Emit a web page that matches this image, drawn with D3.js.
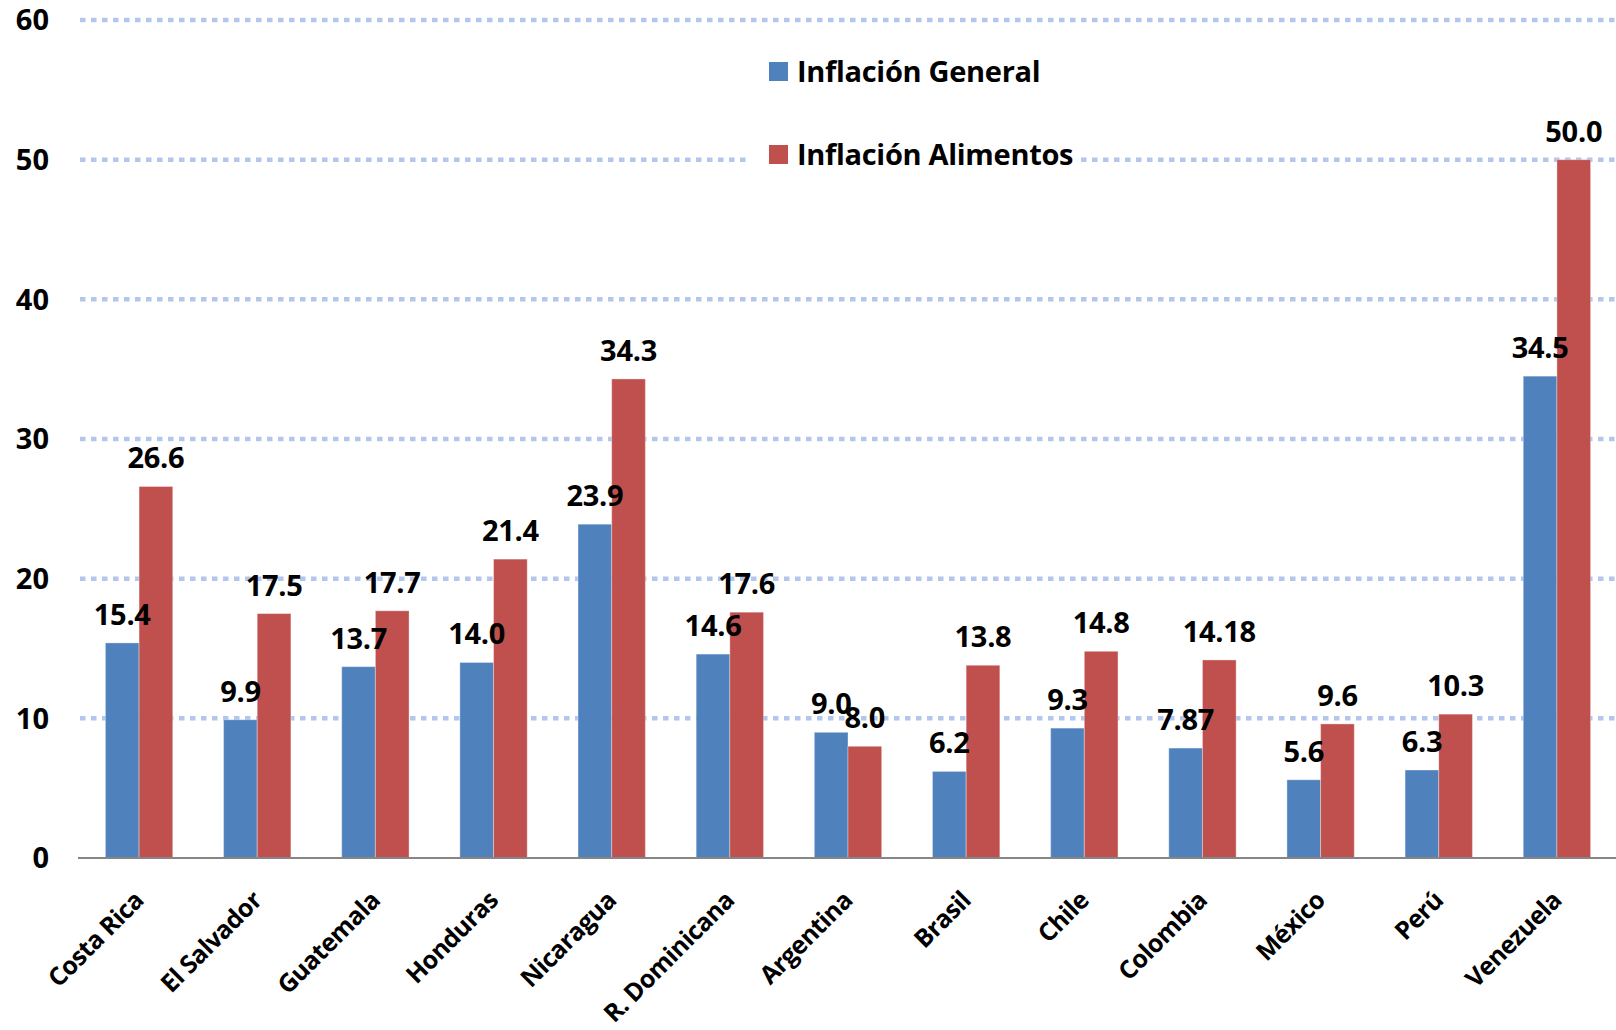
<!DOCTYPE html>
<html>
<head>
<meta charset="utf-8">
<script src="https://cdn.jsdelivr.net/npm/d3@7"></script>
<style>
  body { margin: 0; background: #fff; }
  text { font-family: "Open Sans", Lato, sans-serif; font-weight: bold; fill: #000; }
</style>
</head>
<body>
<div id="chart"></div>
<script>
// data
var paises = ["Costa Rica", "El Salvador", "Guatemala", "Honduras", "Nicaragua", "R. Dominicana",
  "Argentina", "Brasil", "Chile", "Colombia", "México", "Perú", "Venezuela"];
var inflGeneral = [15.4, 9.9, 13.7, 14.0, 23.9, 14.6, 9.0, 6.2, 9.3, 7.87, 5.6, 6.3, 34.5];
var inflAlimentos = [26.6, 17.5, 17.7, 21.4, 34.3, 17.6, 8.0, 13.8, 14.8, 14.18, 9.6, 10.3, 50.0];
var labelsGeneral = ["15.4", "9.9", "13.7", "14.0", "23.9", "14.6", "9.0", "6.2", "9.3", "7.87", "5.6", "6.3", "34.5"];
var labelsAlimentos = ["26.6", "17.5", "17.7", "21.4", "34.3", "17.6", "8.0", "13.8", "14.8", "14.18", "9.6", "10.3", "50.0"];
var series = ["Inflación General", "Inflación Alimentos"];
var colores = ["#4f81bd", "#c0504d"];
var yTicks = [0, 10, 20, 30, 40, 50, 60];

var width = 1616, height = 1030;
var plot = { left: 80, right: 1616, top: 20, bottom: 858 };

var svg = d3.select("#chart").append("svg")
  .attr("width", width)
  .attr("height", height);

var x = d3.scaleBand()
  .domain(paises)
  .range([plot.left, plot.right])
  .paddingInner(0.43)
  .paddingOuter(0.215);

var xSub = d3.scaleBand()
  .domain(series)
  .range([0, x.bandwidth()]);

var y = d3.scaleLinear()
  .domain([0, 60])
  .range([plot.bottom, plot.top]);

// dotted gridlines
svg.append("g")
  .selectAll("line")
  .data(yTicks.filter(d => d > 0))
  .enter()
  .append("line")
    .attr("x1", plot.left)
    .attr("x2", plot.right)
    .attr("y1", d => y(d))
    .attr("y2", d => y(d))
    .attr("stroke", "#b3c6ec")
    .attr("stroke-width", 4.5)
    .attr("stroke-dasharray", "5.5,5.5");

// y tick labels
svg.append("g")
  .selectAll("text")
  .data(yTicks)
  .enter()
  .append("text")
    .attr("x", 49)
    .attr("y", d => y(d))
    .attr("dy", "0.36em")
    .attr("text-anchor", "end")
    .style("font-size", "29px")
    .text(d => d);

var rows = paises.map((p, i) => ({
  pais: p,
  vals: [
    { s: series[0], v: inflGeneral[i], lab: labelsGeneral[i] },
    { s: series[1], v: inflAlimentos[i], lab: labelsAlimentos[i] }
  ]
}));

var groups = svg.append("g")
  .selectAll("g")
  .data(rows)
  .enter()
  .append("g")
    .attr("transform", d => `translate(${x(d.pais)},0)`);

groups.selectAll("rect")
  .data(d => d.vals)
  .enter()
  .append("rect")
    .attr("x", d => xSub(d.s))
    .attr("y", d => y(d.v))
    .attr("width", xSub.bandwidth())
    .attr("height", d => y(0) - y(d.v))
    .attr("fill", (d, i) => colores[i])
    .attr("stroke", "#ffffff")
    .attr("stroke-opacity", 0.35)
    .attr("stroke-width", 1);

// value labels
groups.selectAll("text")
  .data(d => d.vals)
  .enter()
  .append("text")
    .attr("x", d => xSub(d.s) + xSub.bandwidth() / 2)
    .attr("y", d => y(d.v) - 18)
    .attr("text-anchor", "middle")
    .style("font-size", "29px")
    .style("letter-spacing", "-0.3px")
    .text(d => d.lab);

// axis baseline
svg.append("line")
  .attr("x1", plot.left - 2)
  .attr("x2", plot.right)
  .attr("y1", y(0))
  .attr("y2", y(0))
  .attr("stroke", "#868686")
  .attr("stroke-width", 2);

// category labels, rotated
svg.append("g")
  .selectAll("text")
  .data(paises)
  .enter()
  .append("text")
    .attr("transform", d => `translate(${x(d) + x.bandwidth() / 2 + 6},${y(0) + 44}) rotate(-45)`)
    .attr("text-anchor", "end")
    .style("font-size", "25px")
    .style("letter-spacing", "-0.6px")
    .text(d => d);

// legend with white box
var legend = svg.append("g");
legend.append("rect")
  .attr("x", 750)
  .attr("y", 40)
  .attr("width", 330)
  .attr("height", 140)
  .attr("fill", "#fff");

var items = legend.selectAll("g")
  .data(series)
  .enter()
  .append("g")
    .attr("transform", (d, i) => `translate(769,${62 + i * 83})`);

items.append("rect")
  .attr("width", 19)
  .attr("height", 19)
  .attr("fill", (d, i) => colores[i]);

items.append("text")
  .attr("x", 28)
  .attr("y", 20)
  .style("font-size", "29px")
  .style("letter-spacing", "-0.3px")
  .text(d => d);
</script>
</body>
</html>
